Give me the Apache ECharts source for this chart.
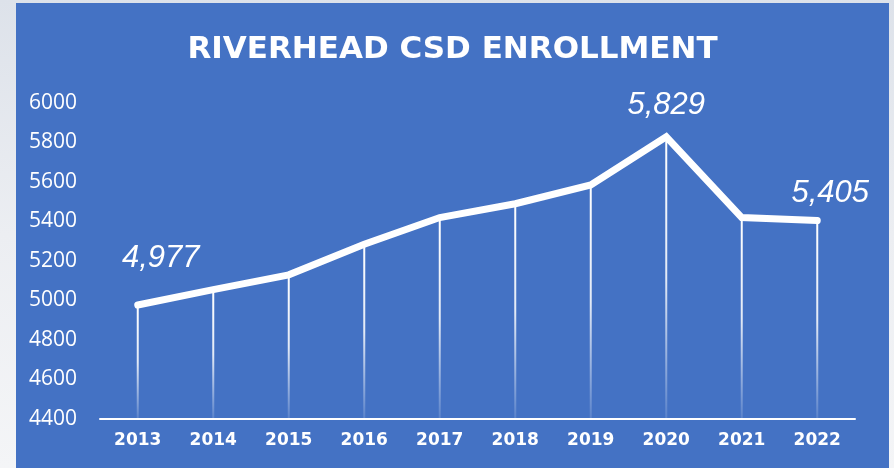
<!DOCTYPE html>
<html>
<head>
<meta charset="utf-8">
<script src="https://cdn.jsdelivr.net/npm/echarts@6/dist/echarts.min.js"></script>
<style>
  html, body { margin: 0; padding: 0; width: 894px; height: 468px; overflow: hidden;
    background: linear-gradient(to bottom, #dde2ea 0%, #eceef2 50%, #f4f5f7 100%); }
  #chart { position: absolute; left: 16px; top: 3px; width: 873px; height: 465px; }
</style>
</head>
<body>
<div id="chart"></div>
<script>
const titleText = 'RIVERHEAD CSD ENROLLMENT';
const years = ['2013', '2014', '2015', '2016', '2017', '2018', '2019', '2020', '2021', '2022'];
const enrollment = [4977, 5055, 5130, 5285, 5420, 5490, 5585, 5829, 5420, 5405];
const labelledYears = ['2013', '2020', '2022'];
const yMin = 4400, yMax = 6000, yStep = 200;

const labelOffsets = { '2013': [23, -31], '2020': [0, -15], '2022': [13, -11] };

const lineData = enrollment.map((v, i) => {
  const y = years[i];
  if (labelledYears.includes(y)) {
    return {
      value: v,
      label: {
        show: true, position: 'top', distance: 0, offset: labelOffsets[y],
        formatter: (p) => Number(p.value).toLocaleString('en-US'),
        color: '#ffffff', fontFamily: 'Liberation Sans', fontStyle: 'italic',
        fontSize: 31
      }
    };
  }
  return v;
});

const chart = echarts.init(document.getElementById('chart'));
chart.setOption({
  backgroundColor: '#4472C4',
  animation: false,
  title: {
    text: titleText, left: 'center', top: 31, padding: 0,
    textStyle: { color: '#ffffff', fontFamily: 'DejaVu Sans', fontWeight: 'bold', fontSize: 31 }
  },
  grid: { left: 84, right: 34, top: 100, bottom: 49, containLabel: false },
  xAxis: {
    type: 'category', data: years, boundaryGap: true,
    axisLine: { lineStyle: { color: '#ffffff', width: 2 } },
    axisTick: { show: false },
    axisLabel: { color: '#ffffff', fontFamily: 'DejaVu Sans', fontWeight: 'bold', fontSize: 17, margin: 13 }
  },
  yAxis: {
    type: 'value', min: yMin, max: yMax, interval: yStep,
    axisLine: { show: false }, axisTick: { show: false }, splitLine: { show: false },
    axisLabel: { color: '#ffffff', fontFamily: 'Open Sans', fontSize: 21, margin: 23,
      formatter: (v) => String(v) }
  },
  series: [
    {
      type: 'bar', data: enrollment, barWidth: 2, z: 1, silent: true,
      itemStyle: {
        color: new echarts.graphic.LinearGradient(0, 0, 0, 1, [
          { offset: 0, color: 'rgba(255,255,255,1)' },
          { offset: 0.5, color: 'rgba(255,255,255,0.85)' },
          { offset: 1, color: 'rgba(255,255,255,0.12)' }
        ])
      }
    },
    {
      type: 'line', data: lineData, z: 3, symbol: 'circle', symbolSize: 1, showSymbol: true,
      itemStyle: { color: '#ffffff' },
      lineStyle: { color: '#ffffff', width: 7, cap: 'round', join: 'miter' }
    }
  ]
});
</script>
</body>
</html>
